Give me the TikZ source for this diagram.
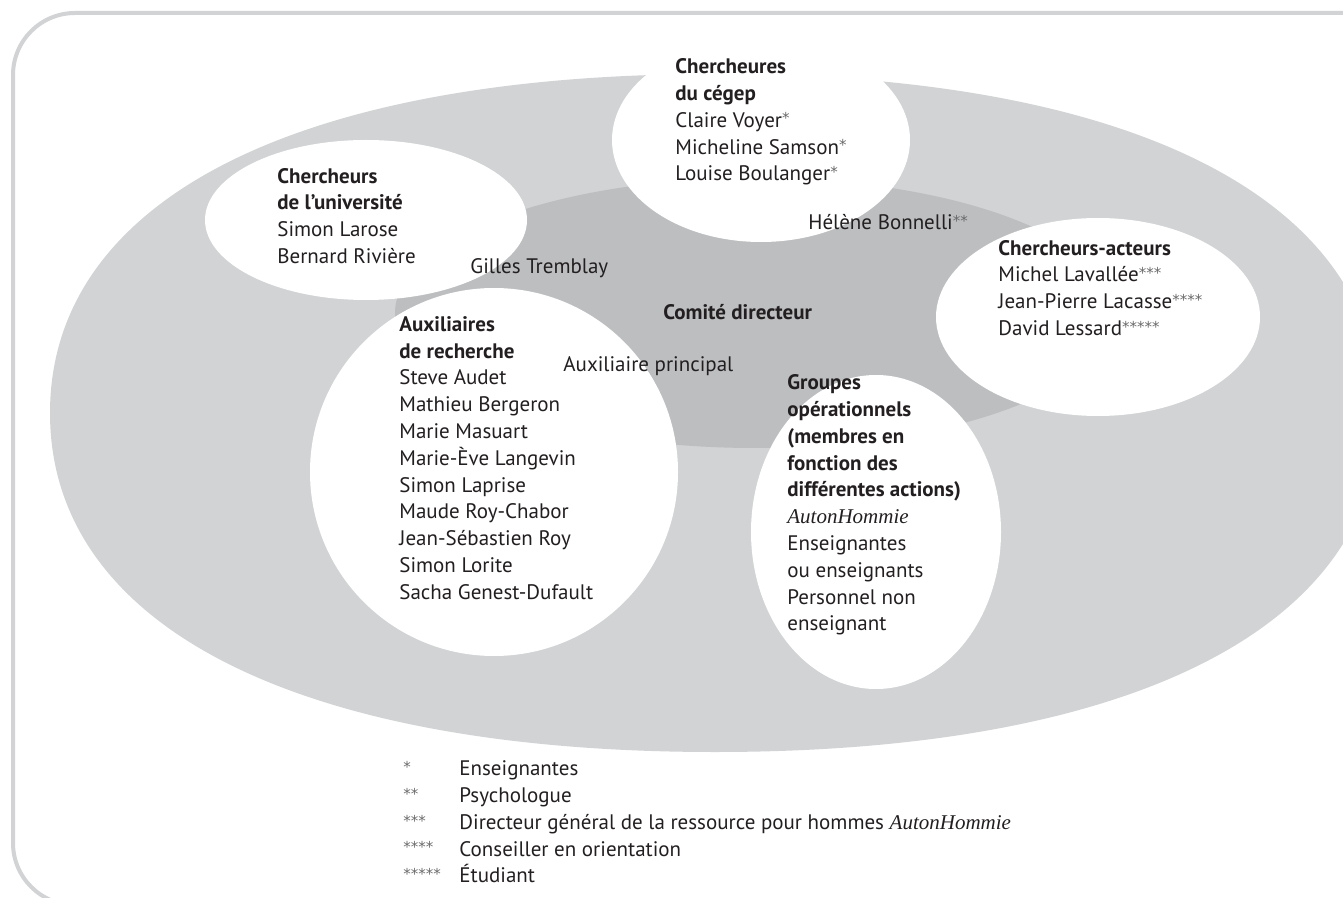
\documentclass[tikz,border=0pt]{standalone}
\usepackage{fontspec}
\setmainfont{PT Sans}
\newfontfamily\hommefont{Liberation Serif}
\newfontfamily\starfont{DejaVu Sans}
\usetikzlibrary{positioning}
\definecolor{outergray}{HTML}{D1D3D4}
\definecolor{innergray}{HTML}{BCBEC0}
\definecolor{inkgray}{HTML}{231F20}
\definecolor{stargray}{HTML}{6A6A6A}
\newcommand{\stars}[1]{{\color{stargray}\starfont\fontsize{7.5}{7.5}\selectfont\raisebox{0.22em}{#1}}}
\newcommand{\homme}{{\hommefont\itshape AutonHommie}}
\newcommand{\legrow}[2]{\makebox[28pt][l]{\stars{#1}}#2}
\tikzset{txt/.style={inner sep=0pt,align=left,anchor=west,text=inkgray,font=\fontsize{10.5}{13.4}\selectfont}}
\tikzset{blob/.style={fill=white}}

\begin{document}
\begin{tikzpicture}[x=0.5pt,y=-0.5pt]
                \useasboundingbox (0,0) rectangle (1343,898);
                \draw[outergray,line width=2pt,rounded corners=31pt] (13,13) rectangle (1420,905);
                \fill[outergray] (50,413) .. controls (50,200) and (296,74) .. (715,74)
                    .. controls (1134,74) and (1380,200) .. (1380,413)
                    .. controls (1380,626) and (1134,752) .. (715,752)
                    .. controls (296,752) and (50,626) .. (50,413) -- cycle;
                \fill[innergray] (755,313) ellipse [x radius=360, y radius=135];
                \fill[blob] (366,220) ellipse [x radius=161, y radius=80];
                \fill[blob] (761,140) ellipse [x radius=149, y radius=102];
                \fill[blob] (1098,317) ellipse [x radius=162, y radius=99];
                \fill[blob] (494,472) ellipse [x radius=184, y radius=184];
                \fill[blob] (876,532) ellipse [x radius=125, y radius=157];
                \node[txt] (univ) at (277,216) {\textbf{Chercheurs}\\\textbf{de l’université}\\Simon Larose\\Bernard Rivière};
                \node[txt] (cegep) at (675,122) {\textbf{Chercheures}\\\textbf{du cégep}\\Claire Voyer\stars{*}\\Micheline Samson\stars{*}\\Louise Boulanger\stars{*}};
                \node[txt] (acteurs) at (998,288) {\textbf{Chercheurs-acteurs}\\Michel Lavallée\stars{***}\\Jean-Pierre Lacasse\stars{****}\\David Lessard\stars{*****}};
                \node[txt] (aux) at (399,458) {\textbf{Auxiliaires}\\\textbf{de recherche}\\Steve Audet\\Mathieu Bergeron\\Marie Masuart\\Marie-Ève Langevin\\Simon Laprise\\Maude Roy-Chabor\\Jean-Sébastien Roy\\Simon Lorite\\Sacha Genest-Dufault};
                \node[txt] (groupes) at (787,505) {\textbf{Groupes}\\\textbf{opérationnels}\\\textbf{(membres en}\\\textbf{fonction des}\\\textbf{différentes actions)}\\\homme\\Enseignantes\\ou enseignants\\Personnel non\\enseignant};
                \node[txt] (comite) at (663,312) {\textbf{Comité directeur}};
                \node[txt] (tremblay) at (470,268) {Gilles Tremblay};
                \node[txt] (bonnelli) at (808,222) {Hélène Bonnelli\stars{**}};
                \node[txt] (principal) at (563,366) {Auxiliaire principal};
                \node[txt] (legende) at (403,822) {\legrow{*}{Enseignantes}\\
                    \legrow{**}{Psychologue}\\
                    \legrow{***}{Directeur général de la ressource pour hommes \homme}\\
                    \legrow{****}{Conseiller en orientation}\\
                    \legrow{*****}{Étudiant}};
\end{tikzpicture}
\end{document}
